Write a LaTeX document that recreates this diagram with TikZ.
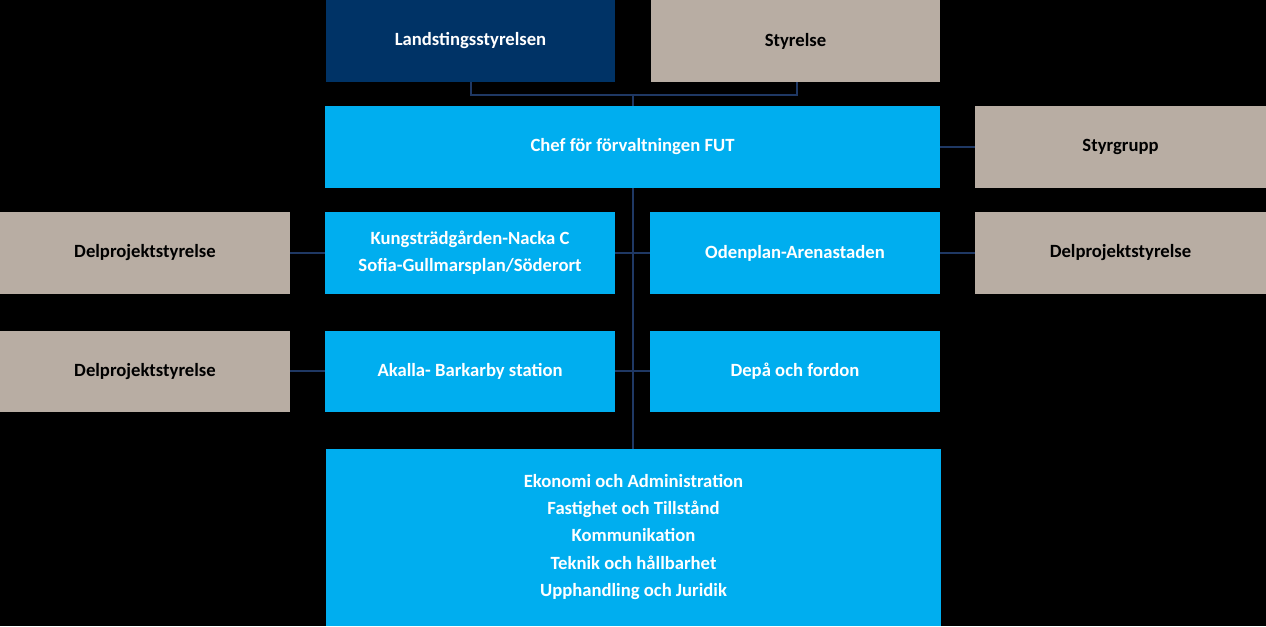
\documentclass[tikz,border=0pt]{standalone}
\usepackage{fontspec}
\setmainfont{Carlito}
\definecolor{navy}{HTML}{003366}
\definecolor{beige}{HTML}{B8ADA3}
\definecolor{cyanb}{HTML}{00AEEF}
\definecolor{linec}{HTML}{1F3864}
\tikzset{
 bx/.style={inner sep=0pt,align=center,font=\fontsize{14}{20}\selectfont\bfseries},
 ln/.style={draw=linec,line width=2.2pt},
}
\newcommand{\boxat}[7]{% name, x1,y1,x2,y2, color, text
 \fill[#6] (#2,#3) rectangle (#4,#5);
 \node[bx,text=#7] (#1) at ({(#2+#4)/2},{(#3+#5)/2}) {};
}
\begin{document}
\begin{tikzpicture}[x=0.75pt,y=-0.75pt]
\fill[black] (0,0) rectangle (1266,626);
\useasboundingbox (0,0) rectangle (1266,626);
% connectors
\coordinate (j1) at (471,95); \coordinate (j2) at (797,95); \coordinate (jm) at (633,95);
\draw[ln] (471,82) -- (j1) -- (j2) -- (797,82);
\draw[ln] (jm) -- (633,106);
\draw[ln] (940,147) -- (975,147);
\draw[ln] (633,188) -- (633,449);
\draw[ln] (615,253) -- (650,253);
\draw[ln] (615,371) -- (650,371);
\draw[ln] (290,253) -- (325,253);
\draw[ln] (940,253) -- (975,253);
\draw[ln] (290,371) -- (325,371);
% boxes
\fill[navy] (326,0) rectangle (615,82);
\node[bx,text=white] (ls) at (470.5,41) {Landstingsstyrelsen};
\fill[beige] (651,0) rectangle (940,82);
\node[bx,text=black] (st) at (795.5,41) {Styrelse};
\fill[cyanb] (325,106) rectangle (940,188);
\node[bx,text=white] (chef) at (632.5,147) {Chef för förvaltningen FUT};
\fill[beige] (975,106) rectangle (1266,188);
\node[bx,text=black] (sg) at (1120.5,147) {Styrgrupp};
\fill[beige] (0,212) rectangle (290,294);
\node[bx,text=black] (d1) at (145,253) {Delprojektstyrelse};
\fill[cyanb] (325,212) rectangle (615,294);
\node[bx,text=white] (kung) at (470,253) {Kungsträdgården-Nacka C\\Sofia-Gullmarsplan/Söderort};
\fill[cyanb] (650,212) rectangle (940,294);
\node[bx,text=white] (oden) at (795,253) {Odenplan-Arenastaden};
\fill[beige] (975,212) rectangle (1266,294);
\node[bx,text=black] (d2) at (1120.5,253) {Delprojektstyrelse};
\fill[beige] (0,331) rectangle (290,412);
\node[bx,text=black] (d3) at (145,371.5) {Delprojektstyrelse};
\fill[cyanb] (325,331) rectangle (615,412);
\node[bx,text=white] (ak) at (470,371.5) {Akalla- Barkarby station};
\fill[cyanb] (650,331) rectangle (940,412);
\node[bx,text=white] (dep) at (795,371.5) {Depå och fordon};
\fill[cyanb] (326,449) rectangle (941,626);
\node[bx,text=white,font=\fontsize{14}{20.5}\selectfont\bfseries] (ek) at (633.5,537) {Ekonomi och Administration\\Fastighet och Tillstånd\\Kommunikation\\Teknik och hållbarhet\\Upphandling och Juridik};
\end{tikzpicture}
\end{document}
